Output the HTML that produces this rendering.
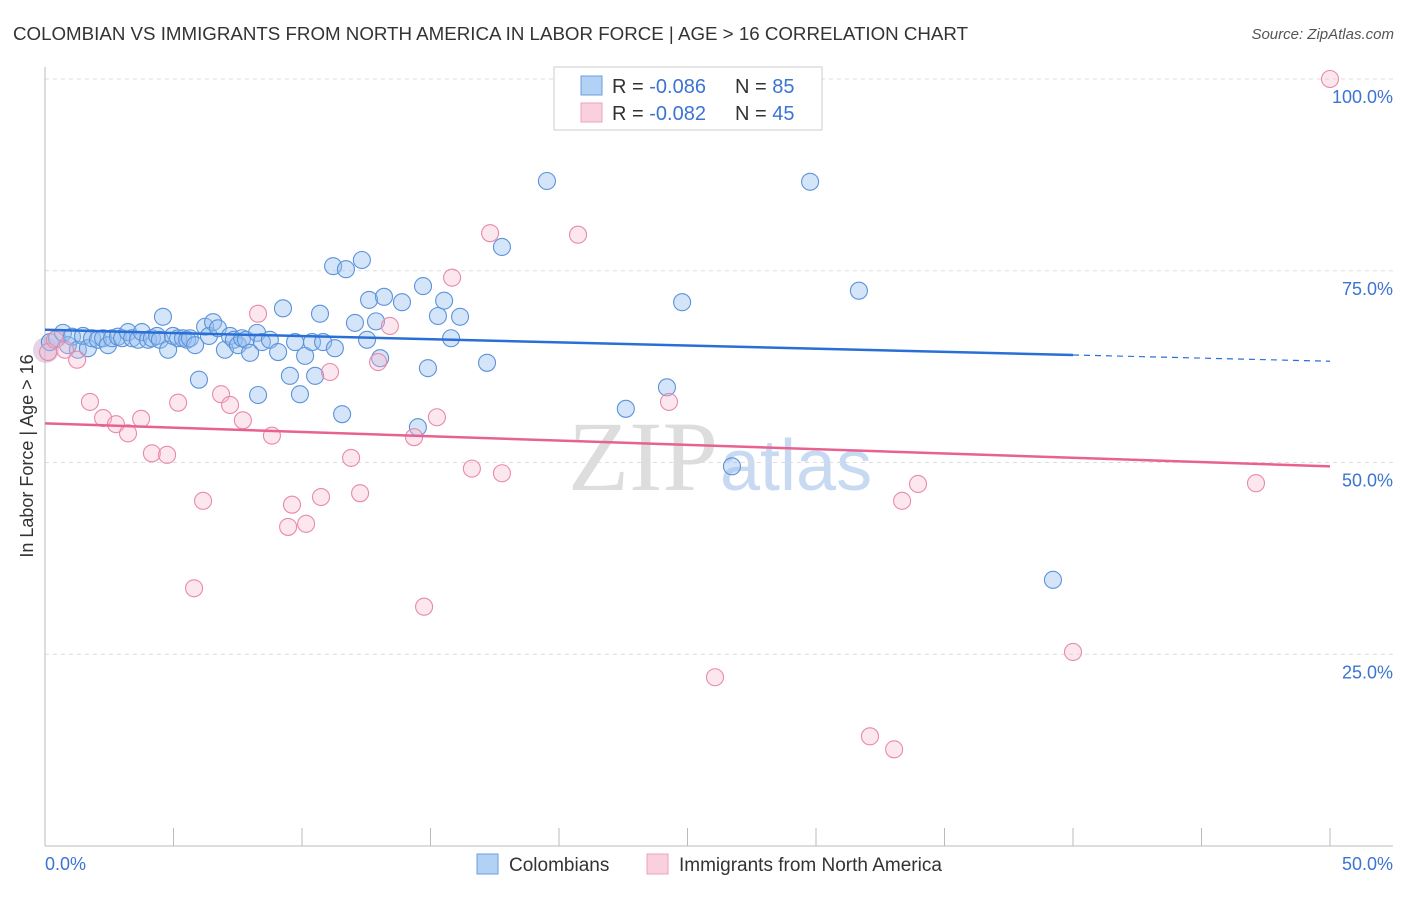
<!DOCTYPE html>
<html><head><meta charset="utf-8"><style>
body{margin:0;background:#fff;font-family:"Liberation Sans",sans-serif;}
</style></head><body>
<svg id="c" width="1406" height="892" xmlns="http://www.w3.org/2000/svg">
<text x="13" y="40" font-size="18" fill="#333" textLength="955" lengthAdjust="spacingAndGlyphs">COLOMBIAN VS IMMIGRANTS FROM NORTH AMERICA IN LABOR FORCE | AGE &gt; 16 CORRELATION CHART</text>
<text x="1394" y="39" font-size="15" fill="#555" font-style="italic" text-anchor="end">Source: ZipAtlas.com</text>
<text x="0" y="0" transform="translate(33,456) rotate(-90)" font-size="18" fill="#333" text-anchor="middle">In Labor Force | Age &gt; 16</text>
<text x="718" y="490" font-size="100" fill="#ddd" font-family="Liberation Serif" text-anchor="end">ZIP</text>
<text x="720" y="490" font-size="72" fill="#c8daf2" text-anchor="start">atlas</text>
<g id="grid"></g><g id="pts"></g><g id="lines"></g>
<g>
<rect x="554" y="67" width="268" height="63" fill="#fff" stroke="#ccc"/>
<rect x="581" y="76" width="21" height="19" fill="#b3d0f5" stroke="#6b9fe0"/>
<rect x="581" y="103" width="21" height="19" fill="#fbd0dd" stroke="#eda2ba"/>
<text x="612" y="93" font-size="20" fill="#333">R = <tspan fill="#3b74d1">-0.086</tspan></text>
<text x="735" y="93" font-size="20" fill="#333">N = <tspan fill="#3b74d1">85</tspan></text>
<text x="612" y="120" font-size="20" fill="#333">R = <tspan fill="#3b74d1">-0.082</tspan></text>
<text x="735" y="120" font-size="20" fill="#333">N = <tspan fill="#3b74d1">45</tspan></text>
</g>
<g>
<rect x="477" y="854" width="21" height="20" fill="#b3d0f5" stroke="#6b9fe0"/>
<text x="509" y="871" font-size="19" fill="#333">Colombians</text>
<rect x="647" y="854" width="21" height="20" fill="#fbd0dd" stroke="#eda2ba"/>
<text x="679" y="871" font-size="19" fill="#333">Immigrants from North America</text>
</g>
</svg>
<script>
const yTicks=[100,75,50,25];
const yTickLabels=["100.0%","75.0%","50.0%","25.0%"];
const xTickLabels=["0.0%","50.0%"];
const blueX=[0.19,0.47,0.70,0.89,1.05,1.28,1.48,1.67,1.83,2.06,2.26,2.45,2.61,2.84,3.0,3.23,3.39,3.62,3.77,4.01,4.16,4.36,4.47,4.59,4.79,4.98,5.18,5.37,5.53,5.64,5.84,5.99,6.23,6.38,6.54,6.73,7.0,7.2,7.35,7.51,7.67,7.82,7.98,8.25,8.29,8.44,8.75,9.07,9.26,9.53,9.73,9.92,10.12,10.39,10.51,10.7,10.82,11.21,11.28,11.56,11.71,12.06,12.33,12.53,12.61,12.88,13.04,13.19,13.89,14.51,14.71,14.9,15.29,15.53,15.8,16.15,17.2,17.78,19.53,22.6,24.2,24.79,26.73,29.77,31.67,39.22];
const blueY=[65.7,66.2,66.9,65.3,66.4,64.7,66.5,64.9,66.2,66.0,66.2,65.3,66.2,66.4,66.2,67.0,66.2,66.0,67.0,66.0,66.2,66.5,66.0,69.0,64.7,66.5,66.2,66.2,66.0,66.2,65.3,60.8,67.7,66.5,68.3,67.5,64.7,66.5,66.0,65.3,66.2,66.0,64.3,66.9,58.8,65.7,66.0,64.4,70.1,61.3,65.7,58.9,63.9,65.7,61.3,69.4,65.7,75.6,64.9,56.3,75.2,68.2,76.4,66.0,71.2,68.4,63.6,71.6,70.9,54.6,73.0,62.3,69.1,71.1,66.2,69.0,63.0,78.1,86.7,57.0,59.8,70.9,49.5,86.6,72.4,34.7];
const pinkX=[0.12,0.39,0.78,1.25,1.75,2.26,2.76,3.23,3.74,4.16,4.75,5.18,6.15,5.80,6.85,7.2,7.7,8.29,8.83,9.61,9.46,10.16,10.74,11.09,11.91,12.26,12.96,13.42,14.36,14.75,15.25,15.84,16.61,17.32,17.78,20.74,24.28,26.07,32.1,33.04,33.35,33.97,40.0,47.12,50.0];
const pinkY=[64.4,66.0,64.7,63.4,57.9,55.8,55.0,53.8,55.7,51.2,51.0,57.8,45.0,33.6,58.9,57.5,55.5,69.4,53.5,44.5,41.6,42.0,45.5,61.8,50.6,46.0,63.1,67.8,53.3,31.2,55.9,74.1,49.2,79.9,48.6,79.7,57.9,22.0,14.3,12.6,45.0,47.2,25.3,47.3,100];
const blueTrend=[67.3,63.2]; const blueSolidEnd=40;
const pinkTrend=[55.1,49.5];
const NS="http://www.w3.org/2000/svg";
const X=v=>45+v/50*1285, Y=v=>846-v/100*767;
function mk(t,a,p){const e=document.createElementNS(NS,t);for(const k in a)e.setAttribute(k,a[k]);p.appendChild(e);return e;}
const g=document.getElementById('grid');
yTicks.forEach((t,i)=>{
 const l=mk('line',{x1:45,x2:1393,y1:Y(t),y2:Y(t),stroke:'#ddd','stroke-dasharray':'4,4'},g);
 
 
 const tx=mk('text',{x:1393,y:Y(t)+24,'font-size':18,fill:'#3b74d1','text-anchor':'end'},g);
 tx.textContent=yTickLabels[i];
 
 
});
mk('line',{x1:45,x2:45,y1:67,y2:846,stroke:'#bbb'},g);
mk('line',{x1:45,x2:1393,y1:846,y2:846,stroke:'#bbb'},g);
for(let i=1;i<=10;i++){mk('line',{x1:X(i*5),x2:X(i*5),y1:828,y2:846,stroke:'#bbb'},g);}
[[0,'start',45],[1,'end',1393]].forEach(([i,a,x])=>{
 const t=mk('text',{x:x,y:870,'font-size':18,fill:'#3b74d1','text-anchor':a},g);
 t.textContent=xTickLabels[i];
 
 
});
const p=document.getElementById('pts');
const big=mk('circle',{cx:46,cy:350,r:13,fill:'rgba(200,170,210,0.5)',stroke:'none'},p);


blueX.forEach((x,i)=>{
 const c=mk('circle',{cx:X(x),cy:Y(blueY[i]),r:8.5,fill:'rgba(150,190,240,0.4)',stroke:'#5b93d9','stroke-width':1.1},p);
 
 
});
pinkX.forEach((x,i)=>{
 const c=mk('circle',{cx:X(x),cy:Y(pinkY[i]),r:8.5,fill:'rgba(248,185,205,0.35)',stroke:'#e88aa8','stroke-width':1.1},p);
 
 
});
const L=document.getElementById('lines');
const by=x=>blueTrend[0]+(blueTrend[1]-blueTrend[0])*x/50;
const b1=mk('line',{x1:X(0),y1:Y(by(0)),x2:X(blueSolidEnd),y2:Y(by(blueSolidEnd)),stroke:'#2a6fd6','stroke-width':2.5},L);


const b2=mk('line',{x1:X(blueSolidEnd),y1:Y(by(blueSolidEnd)),x2:X(50),y2:Y(by(50)),stroke:'#2a6fd6','stroke-width':1.2,'stroke-dasharray':'6,5'},L);


const pl=mk('line',{x1:X(0),y1:Y(pinkTrend[0]),x2:X(50),y2:Y(pinkTrend[1]),stroke:'#e8628f','stroke-width':2.5},L);


</script>
</body></html>
